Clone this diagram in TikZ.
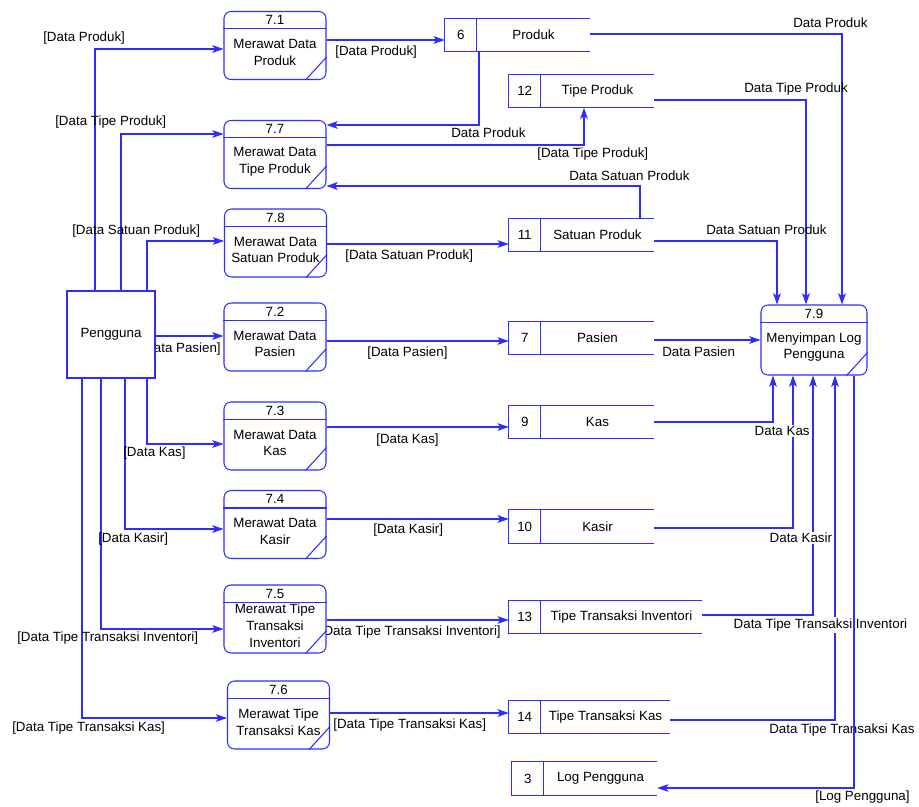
\documentclass[tikz,border=0pt]{standalone}
\usepackage{fontspec}
\setmainfont{Liberation Sans}
\usetikzlibrary{calc,arrows.meta}

\definecolor{flow blue}{RGB}{45,45,255}
\tikzset{dfdline/.style={draw=flow blue, line width=0.75pt},
    dfdflow/.style={dfdline, -{Stealth[length=8pt,width=5.5pt,inset=2pt]}},
    procshape/.style={dfdline, fill=white, rounded corners=5pt, inner sep=0pt,
        minimum width=102*0.025cm, minimum height=68*0.025cm},
    storeshape/.style={inner sep=0pt, minimum width=#1*0.025cm, minimum height=33*0.025cm},
    entity/.style={dfdline, fill=white, inner sep=0pt,
        minimum width=88*0.025cm, minimum height=87*0.025cm},
    flowtext/.style={inner sep=0pt, anchor=west},
    flowtextw/.style={flowtext, fill=white, inner sep=1pt}}

\newcommand\procbox[5][]{%
    \node[procshape,#1] (#2) at (#3) {};
    \draw[dfdline] ($(#2.north west)+(0,18)$) -- ($(#2.north east)+(0,18)$);
    \draw[dfdline] ($(#2.south east)+(-21,0)$) -- ($(#2.south east)+(0,-23)$);
    \node[inner sep=0pt] (#2-n) at ($(#2.north)+(0,9)$) {#4};
    \node[align=center, inner sep=0pt] (#2-t) at ($(#2.center)+(0,7)$) {#5};}
\newcommand\datastore[5]{%
    \node[storeshape=#3] (#1) at (#2) {};
    \draw[dfdline] (#1.north east) -- (#1.north west) -- (#1.south west) -- (#1.south east);
    \draw[dfdline] ($(#1.north west)+(32,0)$) -- ($(#1.south west)+(32,0)$);
    \node (#1-n) at ($(#1.west)+(16,0)$) {#4};
    \node (#1-t) at ($(#1.center)+(16,0)$) {#5};}

\begin{document}
\begin{tikzpicture}[x=0.025cm, y=-0.025cm, font=\fontsize{9.5}{12}\selectfont]
    \useasboundingbox (0,0) rectangle (919,807);

    \node[flowtext, anchor=east] (t-pg-p72) at (221,349) {[Data Pasien]};
    \node[flowtext, anchor=east] (t-p75-s13) at (501,632) {[Data Tipe Transaksi Inventori]};

    \node[entity] (pg) at (111,334.5) {Pengguna};

    \procbox{p71}{275,45.5}{7.1}{Merawat Data\\Produk}
    \procbox{p77}{275,154.5}{7.7}{Merawat Data\\Tipe Produk}
    \procbox{p78}{275.5,243}{7.8}{Merawat Data\\Satuan Produk}
    \procbox{p72}{275,337}{7.2}{Merawat Data\\Pasien}
    \procbox{p73}{275,436}{7.3}{Merawat Data\\Kas}
    \procbox{p74}{275,524.5}{7.4}{Merawat Data\\Kasir}
    \procbox{p75}{275,619}{7.5}{Merawat Tipe\\Transaksi\\Inventori}
    \procbox{p76}{278.5,715}{7.6}{Merawat Tipe\\Transaksi Kas}
    \procbox[minimum width=106*0.025cm, minimum height=70*0.025cm]{p79}{814,340}{7.9}{Menyimpan Log\\Pengguna}

    \datastore{s6}{517.5,35}{145}{6}{Produk}
    \datastore{s12}{581.5,91}{145}{12}{Tipe Produk}
    \datastore{s11}{581.5,235}{145}{11}{Satuan Produk}
    \datastore{s7}{581.5,338}{145}{7}{Pasien}
    \datastore{s9}{581.5,422}{145}{9}{Kas}
    \datastore{s10}{581.5,526.5}{145}{10}{Kasir}
    \datastore{s13}{605.5,617}{193}{13}{Tipe Transaksi Inventori}
    \datastore{s14}{589.5,717}{161}{14}{Tipe Transaksi Kas}
    \datastore{s3}{584.5,778.5}{145}{3}{Log Pengguna}

    \draw[dfdflow] (pg.north -| 95,0) |- (p71.west |- 0,49);
    \draw[dfdflow] (pg.north -| 121,0) |- (p77.west |- 0,134);
    \draw[dfdflow] (pg.north -| 147,0) |- (p78.west |- 0,241);
    \draw[dfdflow] (pg.east |- 0,336) -- (p72.west |- 0,336);
    \draw[dfdflow] (pg.south -| 147,0) |- (p73.west |- 0,444);
    \draw[dfdflow] (pg.south -| 125,0) |- (p74.west |- 0,529);
    \draw[dfdflow] (pg.south -| 101,0) |- (p75.west |- 0,629);
    \draw[dfdflow] (pg.south -| 82,0) |- (p76.west |- 0,718);

    \draw[dfdflow] (p71.east |- 0,40) -- (s6.west |- 0,40);
    \draw[dfdflow] (p77.east |- 0,145) -| (s12.south -| 584,0);
    \draw[dfdflow] (s6.south -| 479,0) |- (p77.east |- 0,125);
    \draw[dfdflow] (s11.north -| 640,0) |- (p77.east |- 0,186);
    \draw[dfdflow] (p78.east |- 0,244) -- (s11.west |- 0,244);
    \draw[dfdflow] (p72.east |- 0,341) -- (s7.west |- 0,341);
    \draw[dfdflow] (p73.east |- 0,427) -- (s9.west |- 0,427);
    \draw[dfdflow] (p74.east |- 0,519) -- (s10.west |- 0,519);
    \draw[dfdflow] (p75.east |- 0,620) -- (s13.west |- 0,620);
    \draw[dfdflow] (p76.east |- 0,713) -- (s14.west |- 0,713);

    \draw[dfdflow] (s6.east |- 0,34) -| (p79.north -| 842,0);
    \draw[dfdflow] (s12.east |- 0,100) -| (p79.north -| 806,0);
    \draw[dfdflow] (s11.east |- 0,241) -| (p79.north -| 777,0);
    \draw[dfdflow] (s7.east |- 0,340) -- (p79.west |- 0,340);
    \draw[dfdflow] (s9.east |- 0,422) -| (p79.south -| 773,0);
    \draw[dfdflow] (s10.east |- 0,528) -| (p79.south -| 793,0);
    \draw[dfdflow] (s13.east |- 0,615) -| (p79.south -| 813,0);
    \draw[dfdflow] (s14.east |- 0,720) -| (p79.south -| 835,0);

    \node[flowtext] (t-pg-p71) at (43,38) {[Data Produk]};
    \node[flowtext] (t-pg-p77) at (55,122) {[Data Tipe Produk]};
    \node[flowtext] (t-pg-p78) at (72,231) {[Data Satuan Produk]};
    \node[flowtext] (t-pg-p73) at (123,453) {[Data Kas]};
    \node[flowtext] (t-pg-p74) at (98,539) {[Data Kasir]};
    \node[flowtext] (t-pg-p75) at (17,638) {[Data Tipe Transaksi Inventori]};
    \node[flowtext] (t-pg-p76) at (12,728) {[Data Tipe Transaksi Kas]};
    \node[flowtext] (t-p71-s6) at (335,52) {[Data Produk]};
    \node[flowtext] (t-s6-p77) at (451,133) {Data Produk};
    \node[flowtext] (t-p77-s12) at (537,154) {[Data Tipe Produk]};
    \node[flowtext] (t-s11-p77) at (569,176) {Data Satuan Produk};
    \node[flowtext] (t-p78-s11) at (345,256) {[Data Satuan Produk]};
    \node[flowtext] (t-p72-s7) at (367,353) {[Data Pasien]};
    \node[flowtext] (t-p73-s9) at (376,440) {[Data Kas]};
    \node[flowtext] (t-p74-s10) at (373,530) {[Data Kasir]};
    \node[flowtext] (t-p76-s14) at (333,725) {[Data Tipe Transaksi Kas]};
    \node[flowtext] (t-s6-p79) at (793,23) {Data Produk};
    \node[flowtext] (t-s12-p79) at (744,89) {Data Tipe Produk};
    \node[flowtext] (t-s11-p79) at (706,230) {Data Satuan Produk};
    \node[flowtext] (t-s7-p79) at (662,352) {Data Pasien};
    \node[flowtextw] (t-s9-p79) at (753,431) {Data Kas};
    \node[flowtextw] (t-s10-p79) at (768,538) {Data Kasir};
    \node[flowtextw] (t-s13-p79) at (732,625) {Data Tipe Transaksi Inventori};
    \node[flowtext] (t-s14-p79) at (769,730) {Data Tipe Transaksi Kas};

    \draw[dfdflow] (p79.south -| 854,0) |- (s3.east |- 0,788);
    \node[flowtext] (t-p79-s3) at (815,797) {[Log Pengguna]};
\end{tikzpicture}
\end{document}
